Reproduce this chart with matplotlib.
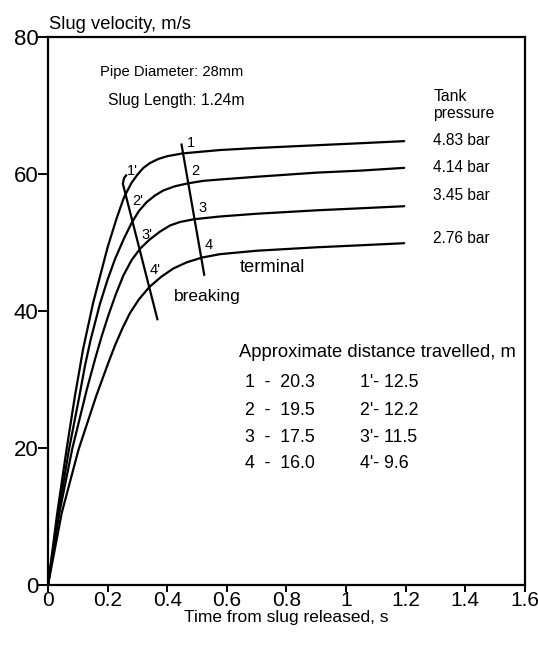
import matplotlib
matplotlib.use("Agg")
import matplotlib.pyplot as plt

plt.rcParams['font.family'] = ['Liberation Sans', 'DejaVu Sans']

# ---- data ----
t1 = [0, 0.031, 0.063, 0.09, 0.118, 0.152, 0.2, 0.23, 0.255, 0.28, 0.3, 0.32, 0.342, 0.37, 0.4, 0.45,
      0.5, 0.577, 0.7, 0.9, 1.05, 1.195]
v1 = [0, 10.5, 20.0, 27.5, 34.5, 41.3, 49.3, 53.5, 56.6, 58.7, 59.9, 60.9, 61.6, 62.2, 62.6, 63.0,
      63.2, 63.5, 63.8, 64.2, 64.5, 64.8]

t2 = [0, 0.035, 0.070, 0.105, 0.124, 0.143, 0.174, 0.2, 0.225, 0.255, 0.281, 0.305,
      0.331, 0.36, 0.387, 0.425, 0.465, 0.52, 0.577, 0.7, 0.9, 1.05, 1.195]
v2 = [0, 10.5, 19.7, 27.5, 32.0, 35.8, 41.0, 44.6, 47.6, 50.6, 52.9, 54.6,
      55.9, 56.9, 57.6, 58.2, 58.6, 59.0, 59.2, 59.6, 60.2, 60.5, 60.9]

t3 = [0, 0.038, 0.082, 0.130, 0.158, 0.180, 0.202, 0.228, 0.253, 0.28, 0.309, 0.34,
      0.376, 0.41, 0.443, 0.49, 0.577, 0.7, 0.9, 1.05, 1.195]
v3 = [0, 10.5, 20.0, 28.5, 33.0, 36.3, 39.3, 42.5, 45.2, 47.4, 49.1, 50.4,
      51.6, 52.5, 53.0, 53.4, 53.8, 54.2, 54.7, 55.0, 55.3]

t4 = [0, 0.046, 0.102, 0.161, 0.202, 0.225, 0.250, 0.275, 0.305, 0.340, 0.38, 0.42,
      0.465, 0.516, 0.577, 0.7, 0.9, 1.05, 1.195]
v4 = [0, 10.5, 19.7, 27.5, 32.4, 35.0, 37.5, 39.7, 41.7, 43.5, 45.0, 46.2,
      47.1, 47.8, 48.3, 48.8, 49.3, 49.6, 49.9]

breaking_t = [0.262, 0.255, 0.251, 0.367]
breaking_v = [59.8, 59.4, 58.6, 38.8]
terminal_t = [0.448, 0.524]
terminal_v = [64.3, 45.3]

pressures = ["4.83 bar", "4.14 bar", "3.45 bar", "2.76 bar"]
pressure_y = [64.9, 60.9, 56.9, 50.6]

terminal_labels = ["1", "2", "3", "4"]
terminal_lab_t = [0.466, 0.482, 0.504, 0.527]
terminal_lab_v = [64.6, 60.4, 55.0, 49.6]
breaking_labels = ["1'", "2'", "3'", "4'"]
breaking_lab_t = [0.266, 0.282, 0.312, 0.340]
breaking_lab_v = [60.4, 56.0, 51.1, 46.0]

dist_terminal = ["1  -  20.3", "2  -  19.5", "3  -  17.5", "4  -  16.0"]
dist_breaking = ["1'- 12.5", "2'- 12.2", "3'- 11.5", "4'- 9.6"]
dist_rows_y = [29.6, 25.5, 21.6, 17.7]

xticks = [0, 0.2, 0.4, 0.6, 0.8, 1.0, 1.2, 1.4, 1.6]
xticklabels = ["0", "0.2", "0.4", "0.6", "0.8", "1", "1.2", "1.4", "1.6"]
yticks = [0, 20, 40, 60, 80]

# ---- figure ----
fig = plt.figure(figsize=(5.38, 6.46), dpi=100)
ax = fig.add_axes([0.0892, 0.0944, 0.8866, 0.8483])
ax.set_xlim(0, 1.6)
ax.set_ylim(0, 80)

lw = 1.6
for t, v in [(t1, v1), (t2, v2), (t3, v3), (t4, v4)]:
    ax.plot(t, v, color='black', lw=lw, solid_capstyle='round', solid_joinstyle='round')
ax.plot(breaking_t, breaking_v, color='black', lw=lw, solid_joinstyle='round')
ax.plot(terminal_t, terminal_v, color='black', lw=lw)

for s in ax.spines.values():
    s.set_linewidth(1.6)
ax.set_xticks(xticks)
ax.set_xticklabels(xticklabels)
ax.set_yticks(yticks)
ax.tick_params(axis='both', direction='out', length=7, width=1.4, labelsize=15,
               top=False, right=False)
ax.tick_params(axis='x', length=5, pad=-1)
ax.tick_params(axis='y', pad=0, labelsize=16)
ax.set_xlabel("Time from slug released, s", fontsize=12.5, labelpad=0)
ax.text(0.004, 80.6, "Slug velocity, m/s", fontsize=13.2, ha='left', va='bottom')

ax.text(0.174, 74.9, "Pipe Diameter: 28mm", fontsize=10.6, ha='left', va='center')
ax.text(0.201, 70.8, "Slug Length: 1.24m", fontsize=11.3, ha='left', va='center')
ax.text(1.293, 71.3, "Tank", fontsize=11.3, ha='left', va='center')
ax.text(1.293, 68.9, "pressure", fontsize=11.3, ha='left', va='center')
for lab, y in zip(pressures, pressure_y):
    ax.text(1.293, y, lab, fontsize=11.2, ha='left', va='center')
for lab, x, y in zip(terminal_labels, terminal_lab_t, terminal_lab_v):
    ax.text(x, y, lab, fontsize=10.5, ha='left', va='center')
for lab, x, y in zip(breaking_labels, breaking_lab_t, breaking_lab_v):
    ax.text(x, y, lab, fontsize=10.5, ha='left', va='center')
ax.text(0.644, 46.3, "terminal", fontsize=13.2, ha='left', va='center')
ax.text(0.423, 42.1, "breaking", fontsize=12.5, ha='left', va='center')
ax.text(0.641, 33.9, "Approximate distance travelled, m", fontsize=13.2, ha='left', va='center')
for a, b, y in zip(dist_terminal, dist_breaking, dist_rows_y):
    ax.text(0.661, y, a, fontsize=12.8, ha='left', va='center')
    ax.text(1.047, y, b, fontsize=12.8, ha='left', va='center')

fig.savefig("out.png", dpi=100)
